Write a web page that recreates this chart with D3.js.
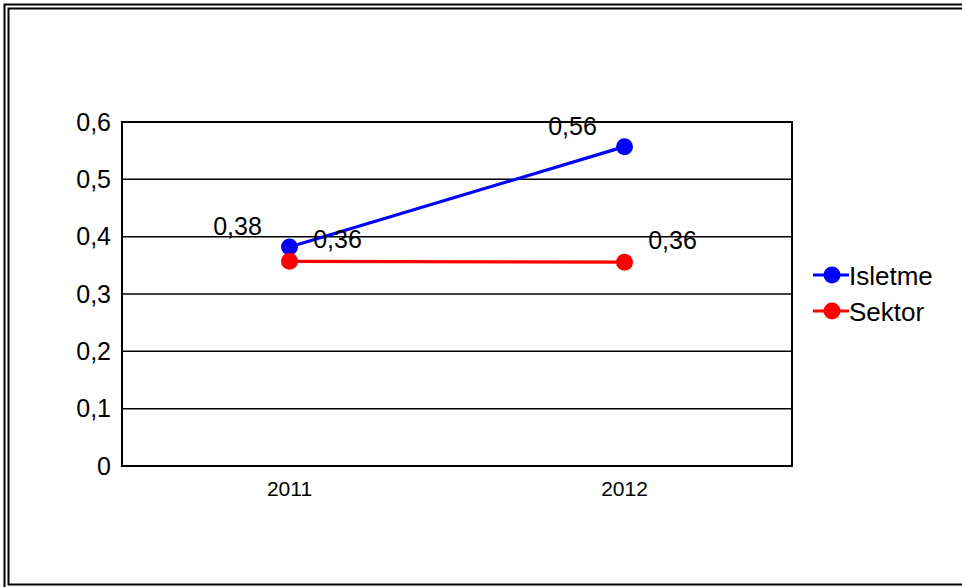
<!DOCTYPE html>
<html>
<head>
<meta charset="utf-8">
<script src="https://cdn.jsdelivr.net/npm/d3@7/dist/d3.min.js"></script>
<style>
  html, body { margin: 0; padding: 0; background: #fff; }
  svg { display: block; font-family: "Liberation Sans", Arial, sans-serif; }
</style>
</head>
<body>
<svg id="chart" width="962" height="587"></svg>
<script>
// Chart data
const categories = ["2011", "2012"];
const seriesNames = ["Isletme", "Sektor"];
const isletmeValues = [0.382, 0.557];
const sektorValues = [0.357, 0.3555];
const yTickValues = [0, 0.1, 0.2, 0.3, 0.4, 0.5, 0.6];
const seriesColors = ["#0000ff", "#ff0000"];

const series = [
  { name: seriesNames[0], values: isletmeValues, color: seriesColors[0], labelDx: -52, labelDy: -12 },
  { name: seriesNames[1], values: sektorValues, color: seriesColors[1], labelDx: 48, labelDy: -13 }
];

const svg = d3.select("#chart");

// Double frame around the whole chart (right and bottom run past the canvas)
svg.append("rect").attr("x", 4.5).attr("y", 4.5).attr("width", 980).attr("height", 600)
  .attr("fill", "none").attr("stroke", "#000").attr("stroke-width", 2);
svg.append("rect").attr("x", 8.5).attr("y", 8.5).attr("width", 980).attr("height", 576)
  .attr("fill", "none").attr("stroke", "#000").attr("stroke-width", 2);

const plot = { left: 122, top: 122, right: 792, bottom: 466 };

const x = d3.scaleBand().domain(categories).range([plot.left, plot.right]);
const y = d3.scaleLinear().domain([0, 0.6]).range([plot.bottom, plot.top]);
const cx = c => x(c) + x.bandwidth() / 2;
const fmt = v => v.toFixed(2).replace(".", ",");
const tickFmt = v => (v === 0 ? "0" : String(+v.toFixed(1)).replace(".", ","));

// Horizontal gridlines
svg.append("g")
  .selectAll("line")
  .data(yTickValues)
  .join("line")
  .attr("x1", plot.left).attr("x2", plot.right)
  .attr("y1", d => y(d)).attr("y2", d => y(d))
  .attr("stroke", "#000").attr("stroke-width", 1.5);

// Plot border
svg.append("rect")
  .attr("x", plot.left).attr("y", plot.top)
  .attr("width", plot.right - plot.left).attr("height", plot.bottom - plot.top)
  .attr("fill", "none").attr("stroke", "#000").attr("stroke-width", 2);

// Y axis labels
const yAxis = d3.axisLeft(y).tickValues(yTickValues).tickFormat(tickFmt).tickSize(0).tickPadding(11);
const yg = svg.append("g").attr("transform", `translate(${plot.left},0)`).call(yAxis);
yg.select(".domain").remove();
yg.selectAll("text").attr("font-size", 25).attr("fill", "#000")
  .attr("font-family", "'Liberation Sans', Arial, sans-serif");

// X axis labels
const xAxis = d3.axisBottom(x).tickSize(0).tickPadding(15);
const xg = svg.append("g").attr("transform", `translate(0,${plot.bottom})`).call(xAxis);
xg.select(".domain").remove();
xg.selectAll("text").attr("font-size", 21).attr("fill", "#000")
  .attr("font-family", "'Liberation Sans', Arial, sans-serif");

// Series lines, markers and value labels
const line = d3.line().x((d, i) => cx(categories[i])).y(d => y(d));

series.forEach(s => {
  const g = svg.append("g");
  g.append("path").datum(s.values)
    .attr("d", line).attr("fill", "none")
    .attr("stroke", s.color).attr("stroke-width", 3.2);
  g.selectAll("circle").data(s.values).join("circle")
    .attr("cx", (d, i) => cx(categories[i])).attr("cy", d => y(d))
    .attr("r", 8.5).attr("fill", s.color);
});

series.forEach(s => {
  svg.append("g").selectAll("text").data(s.values).join("text")
    .attr("x", (d, i) => cx(categories[i]) + s.labelDx)
    .attr("y", d => y(d) + s.labelDy)
    .attr("text-anchor", "middle")
    .attr("font-size", 25).attr("fill", "#000")
    .text(d => fmt(d));
});

// Legend
const legend = svg.append("g");
series.forEach((s, i) => {
  const ly = 275 + i * 36;
  legend.append("line").attr("x1", 813).attr("x2", 849).attr("y1", ly).attr("y2", ly)
    .attr("stroke", s.color).attr("stroke-width", 3.2);
  legend.append("circle").attr("cx", 832).attr("cy", ly).attr("r", 8.5).attr("fill", s.color);
  legend.append("text").attr("x", 849).attr("y", ly + 10)
    .attr("font-size", 26).attr("fill", "#000").text(s.name);
});
</script>
</body>
</html>
